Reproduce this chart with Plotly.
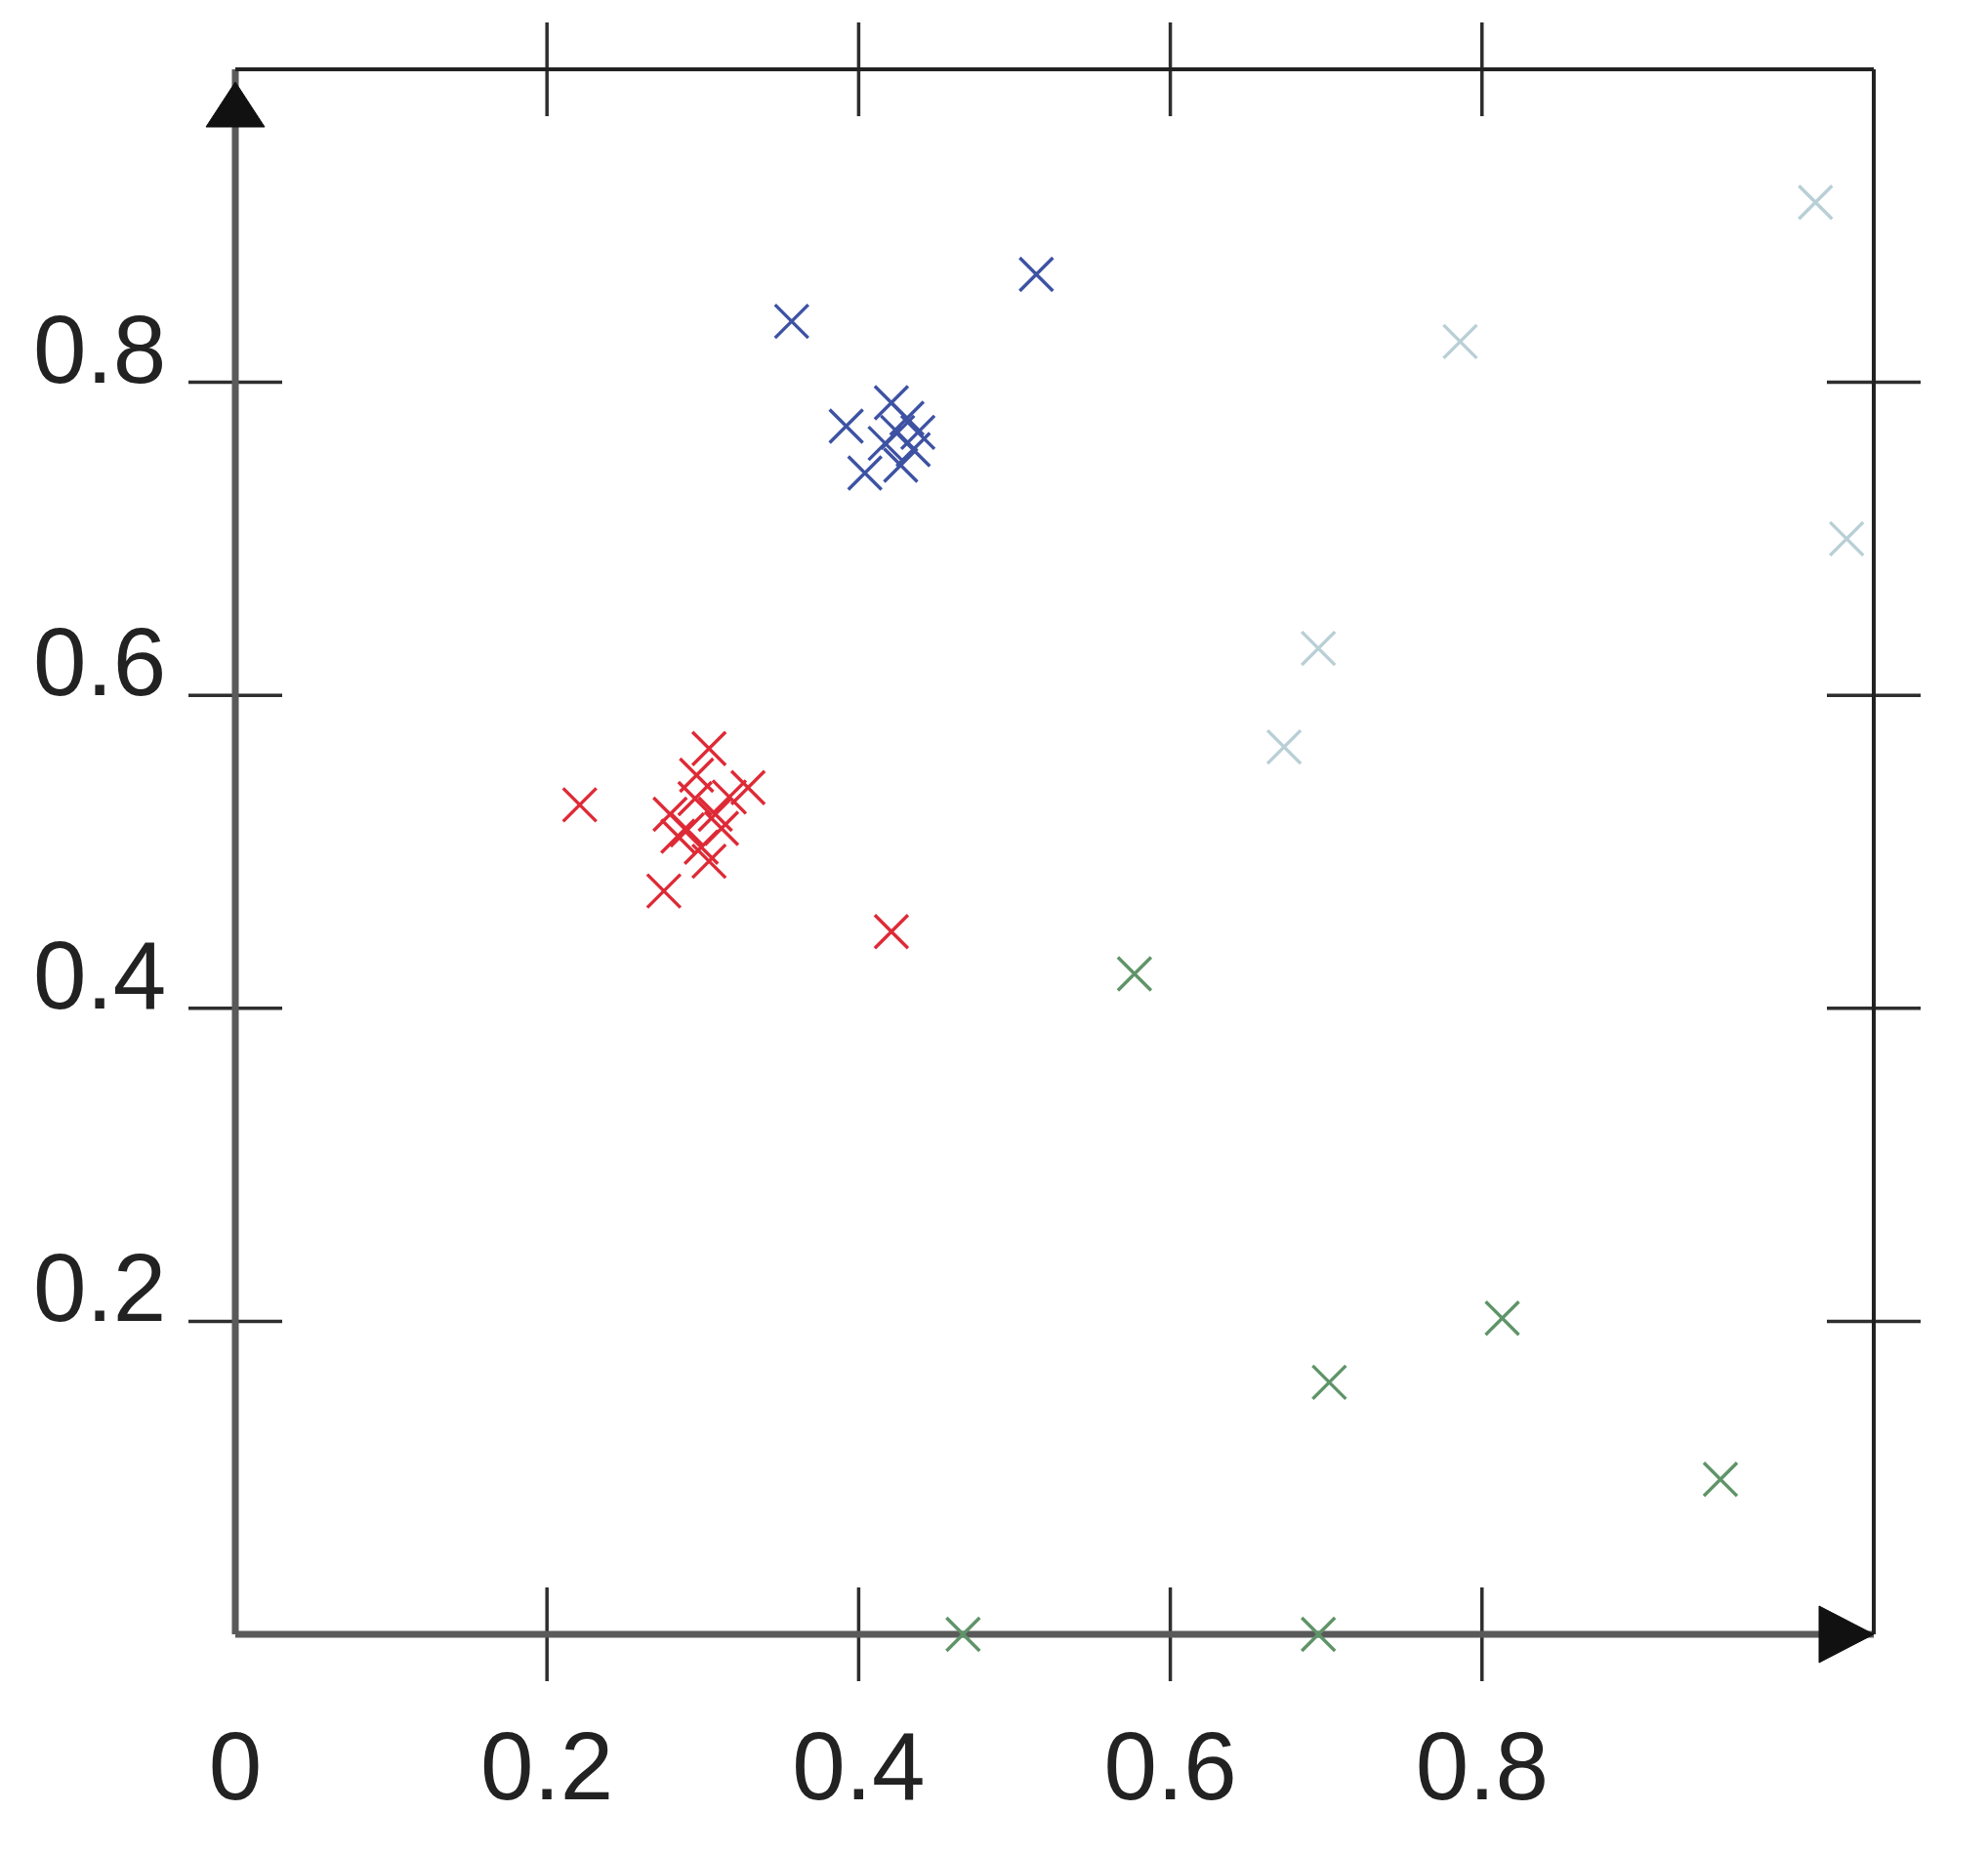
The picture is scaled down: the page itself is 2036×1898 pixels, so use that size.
import plotly.graph_objects as go

# ---- data ----
red_x = [0.221, 0.421, 0.275, 0.304, 0.329, 0.279, 0.290, 0.299, 0.308, 0.317, 0.304, 0.295, 0.284, 0.296, 0.312]
red_y = [0.530, 0.449, 0.475, 0.566, 0.541, 0.524, 0.514, 0.503, 0.524, 0.535, 0.494, 0.534, 0.510, 0.549, 0.515]

blue_x = [0.357, 0.514, 0.392, 0.404, 0.421, 0.425, 0.438, 0.427, 0.431, 0.417, 0.435]
blue_y = [0.839, 0.869, 0.772, 0.742, 0.787, 0.768, 0.768, 0.747, 0.777, 0.761, 0.757]

green_x = [0.577, 0.702, 0.813, 0.953, 0.467, 0.695]
green_y = [0.422, 0.161, 0.202, 0.099, 0.000, 0.000]

lblue_x = [1.014, 0.786, 1.034, 0.695, 0.673]
lblue_y = [0.915, 0.826, 0.700, 0.630, 0.567]

x_ticks = [0.2, 0.4, 0.6, 0.8]
y_ticks = [0.2, 0.4, 0.6, 0.8]
x_labels = [0, 0.2, 0.4, 0.6, 0.8]
x_label_text = ["0", "0.2", "0.4", "0.6", "0.8"]
y_label_text = ["0.2", "0.4", "0.6", "0.8"]

X_RANGE = [0, 1.0514]
Y_RANGE = [0, 1.0]

W, H = 2036, 1898
ML, MR, MT, MB = 233, 125, 63, 232
PW, PH = W - ML - MR, H - MT - MB

fig = go.Figure()

def add_series(xs, ys, color, name):
    fig.add_trace(go.Scatter(
        x=xs, y=ys, mode="markers", name=name, cliponaxis=False,
        marker=dict(symbol="x-thin", size=34, color=color,
                    line=dict(width=3.4, color=color)),
    ))

add_series(lblue_x, lblue_y, "#b9cfd6", "c4")
add_series(green_x, green_y, "#5f9468", "c3")
add_series(blue_x, blue_y, "#3d52a3", "c2")
add_series(red_x, red_y, "#de2a36", "c1")

shapes = []
TL = 48  # half tick length in px
tlx = TL / PH
tly = TL / PW
tick_col = "#2e2e2e"
for v in x_ticks:
    for base in (0, 1):
        shapes.append(dict(type="line", xref="x", yref="paper", x0=v, x1=v,
                           y0=base - tlx, y1=base + tlx,
                           line=dict(color=tick_col, width=3.5), layer="below"))
for v in y_ticks:
    for base in (0, 1):
        shapes.append(dict(type="line", xref="paper", yref="y", y0=v, y1=v,
                           x0=base - tly, x1=base + tly,
                           line=dict(color=tick_col, width=3.5), layer="below"))

# frame: left/bottom axis (gray), top/right (black)
shapes.append(dict(type="line", xref="paper", yref="paper", x0=0, x1=1, y0=0, y1=0,
                   line=dict(color="#5a5a5a", width=7), layer="below"))
shapes.append(dict(type="line", xref="paper", yref="paper", x0=0, x1=0, y0=0, y1=1,
                   line=dict(color="#5a5a5a", width=7), layer="below"))
shapes.append(dict(type="line", xref="paper", yref="paper", x0=0, x1=1, y0=1, y1=1,
                   line=dict(color="#222222", width=4), layer="below"))
shapes.append(dict(type="line", xref="paper", yref="paper", x0=1, x1=1, y0=0, y1=1,
                   line=dict(color="#222222", width=4), layer="below"))

# arrow heads
ah_w = 30 / PW
ah_h = 46 / PH
tip_up = 1 - 13 / PH
shapes.append(dict(type="path", xref="paper", yref="paper",
                   path=f"M {-ah_w} {tip_up - ah_h} L 0 {tip_up} L {ah_w} {tip_up - ah_h} Z",
                   fillcolor="#111111", line=dict(color="#111111", width=1)))
rw = 56 / PW
rh = 29 / PH
shapes.append(dict(type="path", xref="paper", yref="paper",
                   path=f"M {1 - rw} {-rh} L 1 0 L {1 - rw} {rh} Z",
                   fillcolor="#111111", line=dict(color="#111111", width=1)))

font = dict(family="Liberation Sans, Arial, sans-serif", size=98, color="#222222")

# y labels sit with their baseline on the tick -> annotations
annotations = []
for v, t in zip(y_ticks, y_label_text):
    annotations.append(dict(x=0, y=v, xref="paper", yref="y", text=t,
                            showarrow=False, xanchor="right", yanchor="middle",
                            xshift=-69, yshift=34, font=font))

fig.update_layout(
    width=W, height=H,
    margin=dict(l=ML, r=MR, t=MT, b=MB),
    paper_bgcolor="white", plot_bgcolor="white",
    showlegend=False,
    shapes=shapes,
    annotations=annotations,
    xaxis=dict(range=X_RANGE, showgrid=False, zeroline=False, showline=False,
               tickmode="array", tickvals=x_labels, ticktext=x_label_text,
               ticks="", tickfont=font, ticklabelstandoff=70),
    yaxis=dict(range=Y_RANGE, showgrid=False, zeroline=False, showline=False,
               tickmode="array", tickvals=y_ticks, ticktext=y_label_text,
               ticks="", showticklabels=False),
)

fig.write_html("out.html")
